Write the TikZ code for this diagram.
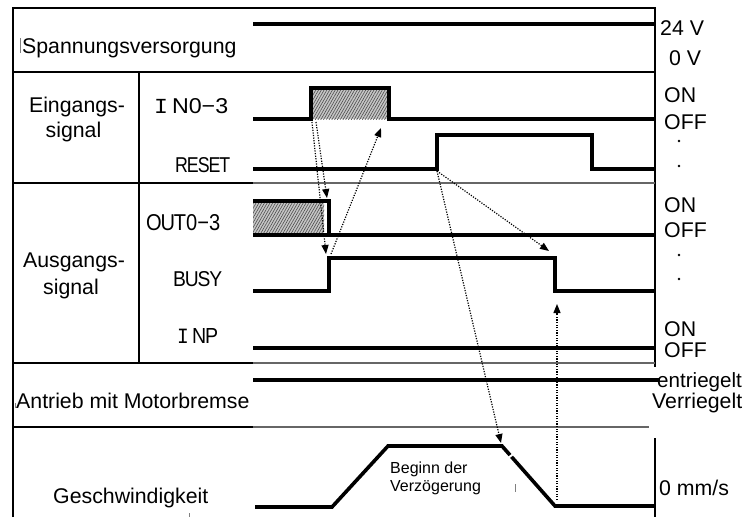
\documentclass[tikz,border=0pt]{standalone}
\usepackage{fontspec}
\setmainfont{Liberation Sans}
\newfontfamily\tightfont[LetterSpace=-6]{Liberation Sans}
\newfontfamily\serifI{Liberation Mono}
\usepackage{graphicx}
\usetikzlibrary{arrows.meta,patterns.meta}
\begin{document}
\begin{tikzpicture}[x=1pt,y=-1pt,
  frame/.style={line width=1.8pt},
  sepline/.style={line width=1.3pt,black!60},
  sig/.style={line width=4.6pt,line join=miter},
  speed/.style={line width=3.6pt,line join=miter},
  dep/.style={line width=1.2pt,dash pattern=on 1.2pt off 1.4pt,-{Triangle[length=9pt,width=7pt]}},
  lbl/.style={font=\fontsize{21.3}{25}\selectfont,inner sep=0pt},
  smalllbl/.style={font=\fontsize{16}{18}\selectfont,inner sep=0pt},
  siglbl/.style={font=\fontsize{21}{25}\selectfont,inner sep=0pt,anchor=base west},
  hatch/.style={fill=gray!45,postaction={pattern={Lines[angle=60,distance=2.4pt,line width=0.6pt]},pattern color=black!70}},
  artifact/.style={line width=0.8pt,black!50},
  dotmark/.style={fill=black,circle,inner sep=0pt,minimum size=2.8pt}
]
\useasboundingbox (0,0) rectangle (744,517);
\fill[white] (0,0) rectangle (744,517);

% ---------- frame ----------
\draw[frame] (13,517) -- (13,8) -- (655,8) -- (655,367);
\draw[frame] (13,72) -- (655,72);
\draw[frame] (13,183) -- (253,183);
\draw[sepline] (253,183) -- (655,183);
\draw[frame] (13,363) -- (253,363);
\draw[sepline] (253,363) -- (655,363);
\draw[frame] (13,427) -- (253,427);
\draw[sepline] (253,427) -- (649,427);
\draw[frame] (139,72) -- (139,363);
\draw[frame] (655,438) -- (655,517);

% ---------- left labels ----------
\node[lbl,anchor=base west] (spann) at (22,53) {Spannungsversorgung};
\node[lbl,anchor=base] (ein1) at (77,112) {Eingangs-};
\node[lbl,anchor=base] (ein2) at (73.5,137) {signal};
\node[lbl,anchor=base] (aus1) at (74,267) {Ausgangs-};
\node[lbl,anchor=base] (aus2) at (71,294) {signal};
\node[lbl,anchor=base west] (antrieb) at (16,408) {Antrieb mit Motorbremse};
\node[lbl,anchor=base west] (geschw) at (53,503) {Geschwindigkeit};

% ---------- signal labels ----------
\node[siglbl] (l-in) at (154,113) {\resizebox{74pt}{15pt}{{\serifI I}\,N0−3}};
\node[siglbl] (l-reset) at (175,172) {\resizebox{55pt}{15pt}{\tightfont RESET}};
\node[siglbl] (l-out) at (146,230) {\resizebox{74pt}{16pt}{{\tightfont OUT}0−3}};
\node[siglbl] (l-busy) at (173,286) {\resizebox{49pt}{15pt}{\tightfont BUSY}};
\node[siglbl] (l-inp) at (177,343) {\resizebox{41pt}{15pt}{{\serifI I}\,{\tightfont NP}}};

% ---------- right labels ----------
\node[lbl,anchor=base west] (r24) at (660,35) {24 V};
\node[lbl,anchor=base west] (r0) at (669,65) {0 V};
\node[lbl,anchor=base west] (ron1) at (664,102) {ON};
\node[lbl,anchor=base west] (roff1) at (664,129) {OFF};
\node[dotmark] (rd1) at (679,141) {};
\node[dotmark] (rd2) at (679,166) {};
\node[lbl,anchor=base west] (ron2) at (664,212) {ON};
\node[lbl,anchor=base west] (roff2) at (664,237) {OFF};
\node[dotmark] (rd3) at (679,255) {};
\node[dotmark] (rd4) at (679,279) {};
\node[lbl,anchor=base west] (ron3) at (664,336) {ON};
\node[lbl,anchor=base west] (roff3) at (664,357) {OFF};
\node[lbl,anchor=base west,font=\fontsize{20.6}{25}\selectfont] (rent) at (657,387) {entriegelt};
\node[lbl,anchor=base west] (rver) at (652,408) {Verriegelt};
\node[lbl,anchor=base west] (rmm) at (659,495) {0 mm/s};

\node[smalllbl,anchor=base west] (beginn1) at (390,473) {Beginn der};
\node[smalllbl,anchor=base west] (beginn2) at (390,491) {Verzögerung};

% ---------- hatched areas ----------
\path[hatch] (311,88) rectangle (389,119);
\path[hatch] (253,202) rectangle (324,233);

% ---------- signals ----------
\draw[sig] (253,24) -- (655,24);
\draw[sig] (253,119) -- (311,119) -- (311,88) -- (389,88) -- (389,119) -- (655,119);
\draw[sig] (253,169) -- (437,169) -- (437,135) -- (592,135) -- (592,169) -- (655,169);
\draw[sig] (253,201) -- (329,201) -- (329,235);
\draw[sig] (253,235) -- (655,235);
\draw[sig] (253,291) -- (329,291) -- (329,258) -- (555,258) -- (555,291) -- (655,291);
\draw[sig] (253,348) -- (655,348);
\draw[sig] (253,380) -- (660,380);
\draw[speed] (255,507) -- (332,507) -- (388,446) -- (502,446) -- (555,506) -- (655,506);
\draw[white,line width=2pt] (508,458) -- (516,452);

% ---------- dependency arrows ----------
\coordinate (inrise) at (312,122);
\coordinate (inrise2) at (316,122);
\coordinate (outstep) at (327,198);
\coordinate (busyrisetip) at (326,254);
\coordinate (busyrise) at (331,254);
\coordinate (infall) at (381,128);
\coordinate (resetrise) at (437,171);
\coordinate (busyfall) at (549,251);
\coordinate (decel) at (501,443);
\coordinate (stopped) at (557,500);
\coordinate (busylow) at (557,304);

\draw[dep] (inrise2) -- (outstep);
\draw[dep] (inrise) -- (busyrisetip);
\draw[dep] (busyrise) -- (infall);
\draw[dep] (resetrise) -- (busyfall);
\draw[dep] (resetrise) -- (decel);
\draw[dep] (stopped) -- (busylow);

% ---------- small marks ----------
\draw[artifact] (20,38) -- (20,53);
\draw[artifact] (15,403) -- (15,408);
\draw[artifact] (515,484) -- (515,492);
\draw[artifact] (189,513) -- (189,517);
\end{tikzpicture}
\end{document}
